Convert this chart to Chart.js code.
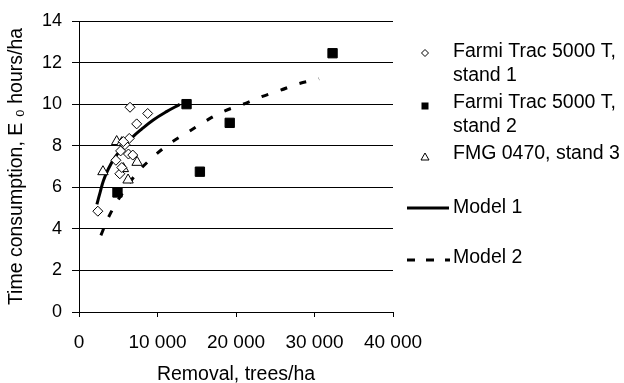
<!DOCTYPE html>
<html><head><meta charset="utf-8">
<script src="https://cdn.jsdelivr.net/npm/chart.js@4.4.1/dist/chart.umd.min.js"></script>
<style>html,body{margin:0;padding:0;background:#fff}#wrap{position:relative;width:624px;height:383px}</style>
</head><body><div id="wrap"><canvas id="c" width="624" height="383"></canvas></div>
<script>
// ---- data ----
const stand1X = [2400, 6500, 8750, 7350, 6400, 5850, 5300, 6300, 6850, 4700, 5200, 5450, 5650];
const stand1Y = [4.85, 9.85, 9.55, 9.05, 8.35, 8.05, 7.75, 7.6, 7.55, 7.3, 6.65, 6.95, 8.2];
const stand2X = [4900, 13700, 19200, 15400, 32300];
const stand2Y = [5.75, 10.0, 9.1, 6.75, 12.45];
const stand3X = [3050, 4800, 5450, 7400, 5650, 6250];
const stand3Y = [6.75, 8.2, 8.15, 7.2, 6.9, 6.35];
const model1X = [2280, 2700, 3120, 3750, 4600, 5650, 6720, 7980, 9460, 11150, 12840];
const model1Y = [5.18, 5.77, 6.33, 6.89, 7.45, 7.93, 8.38, 8.80, 9.24, 9.64, 9.99];
const model2X = [2790, 3880, 5250, 7140, 8950, 11360, 13690, 16100, 18420, 20870, 23270, 25600, 27960, 30580];
const model2Y = [3.69, 4.65, 5.55, 6.57, 7.29, 8.05, 8.61, 9.18, 9.65, 9.99, 10.36, 10.66, 10.98, 11.22];
const seriesNames = ['Farmi Trac 5000 T,\nstand 1', 'Farmi Trac 5000 T,\nstand 2', 'FMG 0470, stand 3', 'Model 1', 'Model 2'];
const xTicks = [0, 10000, 20000, 30000, 40000];
const yTicks = [0, 2, 4, 6, 8, 10, 12, 14];
const xTitle = 'Removal, trees/ha';
const yTitle = 'Time consumption, E \u2080 hours/ha';

const pts = (xs, ys) => xs.map((x, i) => ({x, y: ys[i]}));
const FONT = '"Liberation Sans", Arial, sans-serif';
const fmt = v => String(v).replace(/\B(?=(\d{3})+(?!\d))/g, ' ');

const legendPlugin = {
  id: 'customLegend',
  afterDraw(chart) {
    const ctx = chart.ctx;
    const tx = 453;
    const rows = [
      {kind: 'diamond', y: 53, ys: [52, 76]},
      {kind: 'square', y: 106, ys: [103, 127]},
      {kind: 'triangle', y: 157, ys: [154]},
      {kind: 'line', y: 208, ys: [208]},
      {kind: 'dash', y: 260, ys: [258]}
    ];
    ctx.save();
    ctx.fillStyle = '#000';
    ctx.strokeStyle = '#000';
    ctx.font = '19.5px ' + FONT;
    ctx.textBaseline = 'middle';
    ctx.textAlign = 'left';
    rows.forEach((r, i) => {
      const mx = 425, my = r.y;
      ctx.setLineDash([]);
      if (r.kind === 'diamond') {
        ctx.lineWidth = 1; ctx.fillStyle = '#fff';
        ctx.beginPath(); ctx.moveTo(mx, my - 3.5); ctx.lineTo(mx + 3.5, my); ctx.lineTo(mx, my + 3.5); ctx.lineTo(mx - 3.5, my); ctx.closePath();
        ctx.fill(); ctx.stroke(); ctx.fillStyle = '#000';
      } else if (r.kind === 'square') {
        ctx.fillRect(mx - 3.5, my - 3.5, 7, 7);
      } else if (r.kind === 'triangle') {
        ctx.lineWidth = 1; ctx.fillStyle = '#fff';
        ctx.beginPath(); ctx.moveTo(mx, my - 4); ctx.lineTo(mx + 4, my + 3); ctx.lineTo(mx - 4, my + 3); ctx.closePath();
        ctx.fill(); ctx.stroke(); ctx.fillStyle = '#000';
      } else if (r.kind === 'line') {
        ctx.lineWidth = 3;
        ctx.beginPath(); ctx.moveTo(407, my); ctx.lineTo(449, my); ctx.stroke();
      } else {
        ctx.lineWidth = 3; ctx.setLineDash([8, 11]);
        ctx.beginPath(); ctx.moveTo(407, my); ctx.lineTo(450, my); ctx.stroke();
        ctx.setLineDash([]);
      }
      const lines = seriesNames[i].split('\n');
      lines.forEach((t, k) => ctx.fillText(t, tx, r.ys[k]));
    });
    ctx.restore();
  }
};

new Chart(document.getElementById('c'), {
  type: 'scatter',
  data: {
    datasets: [
      {label: seriesNames[0], data: pts(stand1X, stand1Y), pointStyle: 'rectRot', pointRadius: 5, borderColor: '#000', backgroundColor: '#fff', borderWidth: 1},
      {label: seriesNames[1], data: pts(stand2X, stand2Y), pointStyle: 'rect', pointRadius: 6.6, borderColor: '#000', backgroundColor: '#000', borderWidth: 1},
      {label: seriesNames[2], data: pts(stand3X, stand3Y), pointStyle: 'triangle', pointRadius: 6, borderColor: '#000', backgroundColor: '#fff', borderWidth: 1},
      {label: seriesNames[3], data: pts(model1X, model1Y), showLine: true, pointRadius: 0, borderColor: '#000', borderWidth: 3, tension: 0.4, fill: false},
      {label: seriesNames[4], data: pts(model2X, model2Y), showLine: true, pointRadius: 0, borderColor: '#000', borderWidth: 3, borderDash: [7, 13], tension: 0.4, fill: false}
    ]
  },
  options: {
    responsive: false,
    animation: false,
    devicePixelRatio: 1,
    layout: {padding: {top: 21, right: 231, bottom: 0, left: 0}},
    plugins: {legend: {display: false}, tooltip: {enabled: false}},
    scales: {
      x: {
        type: 'linear', min: 0, max: 40000,
        afterBuildTicks: s => { s.ticks = xTicks.map(v => ({value: v})); },
        afterFit: s => { s.height = 71; },
        ticks: {color: '#000', font: {family: FONT, size: 19}, padding: 14, maxRotation: 0, callback: v => fmt(v)},
        grid: {drawOnChartArea: false, drawTicks: true, tickLength: 5, color: '#000', lineWidth: 1},
        border: {color: '#000', width: 1},
        title: {display: true, text: xTitle, color: '#000', font: {family: FONT, size: 19.5}, padding: {top: 2, bottom: -3}}
      },
      y: {
        min: 0, max: 14,
        afterBuildTicks: s => { s.ticks = yTicks.map(v => ({value: v})); },
        afterFit: s => { s.width = 79; },
        ticks: {color: '#000', font: {family: FONT, size: 18}, padding: 10},
        grid: {drawOnChartArea: true, drawTicks: true, tickLength: 7, color: '#000', lineWidth: 1},
        border: {color: '#000', width: 1},
        title: {display: true, text: yTitle, color: '#000', font: {family: FONT, size: 19.5}, padding: {top: 5, bottom: 0}}
      }
    }
  },
  plugins: [legendPlugin]
});
</script>
</body></html>
